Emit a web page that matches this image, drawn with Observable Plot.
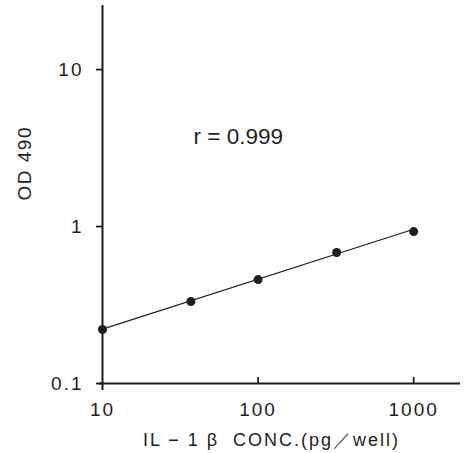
<!DOCTYPE html>
<html>
<head>
<meta charset="utf-8">
<script src="https://cdn.jsdelivr.net/npm/d3@7"></script>
<script src="https://cdn.jsdelivr.net/npm/@observablehq/plot@0.6"></script>
<style>
  html, body { margin: 0; padding: 0; background: #fff; }
  svg text { font-family: "Liberation Sans", Arial, sans-serif; }
  svg g[aria-label$="tick label"] text { letter-spacing: 2px; }
</style>
</head>
<body>
<div id="chart"></div>
<script>
// Data
const concentrations = [10, 37, 100, 320, 1000];      // IL-1β pg/well
const od490 = [0.221, 0.333, 0.459, 0.683, 0.929];   // OD 490
const fitConc = [10, 1000];                           // regression line ends
const fitOD = [0.222, 0.96];
const xTicks = [10, 100, 1000];
const yTicks = [0.1, 1, 10];
const xLabel = "IL − 1 β  CONC.(pg／well)";
const yLabel = "OD 490";
const rLabel = "r = 0.999";

const points = concentrations.map((c, i) => ({c, od: od490[i]}));
const fit = fitConc.map((c, i) => ({c, od: fitOD[i]}));

const ink = "#1e1e1e";
const chart = Plot.plot({
  width: 471,
  height: 453,
  marginLeft: 102,
  marginRight: 11,
  marginTop: 5,
  marginBottom: 70,
  style: {background: "#fff", color: ink, fontSize: "19px"},
  x: {type: "log", domain: [10, 2000]},
  y: {type: "log", domain: [0.1, 25.6]},
  marks: [
    Plot.axisY({ticks: yTicks, tickFormat: d => String(d), tickSize: 6, tickPadding: 13, strokeWidth: 1.8, label: null, fontSize: 19}),
    Plot.axisX({ticks: xTicks, tickFormat: d => String(d), tickSize: 0, tickPadding: 19, label: null, fontSize: 19}),
    Plot.ruleX(xTicks.slice(1), {stroke: ink, strokeWidth: 1.8, insetTop: 372}),
    Plot.ruleX([xTicks[0]], {stroke: ink, strokeWidth: 2, insetBottom: -7}),
    Plot.ruleY([yTicks[0]], {stroke: ink, strokeWidth: 2, insetLeft: -3}),
    Plot.line(fit, {x: "c", y: "od", stroke: ink, strokeWidth: 1.1}),
    Plot.dot(points, {x: "c", y: "od", r: 4.5, fill: ink, stroke: null}),
    Plot.text([rLabel], {frameAnchor: "top-left", dx: 91, dy: 123, textAnchor: "start", fontSize: 22.5, fill: ink}),
    Plot.text([xLabel], {frameAnchor: "bottom", dx: -10, dy: 62, fontSize: 18, fill: ink}),
    Plot.text([yLabel], {frameAnchor: "left", dx: -78, dy: 6, rotate: -90, fontSize: 19, fill: ink})
  ]
});
const spacing = new Map([[xLabel, "2px"], [yLabel, "1.5px"]]);
d3.select(chart).selectAll("text")
  .filter(function() { return spacing.has(this.textContent); })
  .style("letter-spacing", function() { return spacing.get(this.textContent); });
document.getElementById("chart").appendChild(chart);
</script>
</body>
</html>
